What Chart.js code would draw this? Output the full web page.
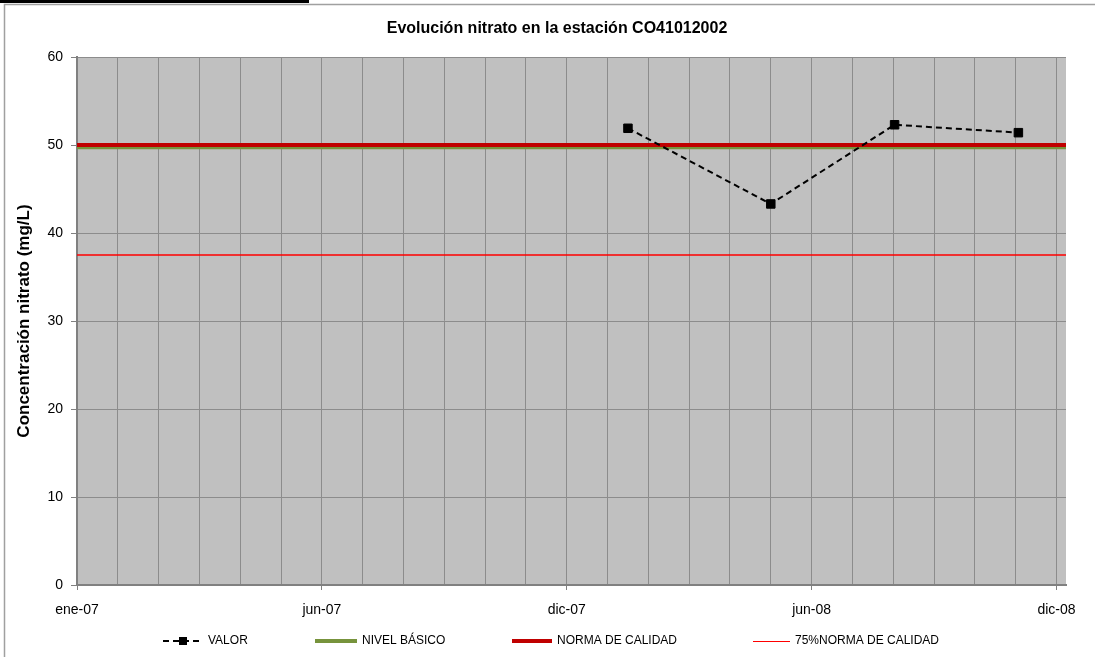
<!DOCTYPE html>
<html>
<head>
<meta charset="utf-8">
<title>Evolución nitrato</title>
<script src="https://cdn.jsdelivr.net/npm/chart.js@4.4.0/dist/chart.umd.min.js"></script>
<style>
    html, body { margin: 0; padding: 0; background: #fff; }
    #wrap { width: 1095px; height: 657px; }
</style>
</head>
<body>
<div id="wrap"><canvas id="chart" width="1095" height="657"></canvas></div>
<script>
// días desde el 1-ene-2007
var fechasValor = [405, 510, 601, 692];
var valores = [51.9, 43.3, 52.3, 51.4];

// series horizontales (inicio y fin del eje)
var ejeX = [0, 727];
var nivelBasico = [49.75, 49.75];
var normaCalidad = [50, 50];
var norma75 = [37.5, 37.5];

var etiquetasX = ['ene-07', 'jun-07', 'dic-07', 'jun-08', 'dic-08'];
var yMin = 0, yMax = 60, yPaso = 10;

var titulo = 'Evolución nitrato en la estación CO41012002';
var nombres = ['VALOR', 'NIVEL BÁSICO', 'NORMA DE CALIDAD', '75%NORMA DE CALIDAD'];

function pares(xs, ys) {
    return xs.map(function (x, i) { return { x: x, y: ys[i] }; });
}

Chart.defaults.font.family = '"Liberation Sans", Arial, sans-serif';
Chart.defaults.color = '#000';

// fondo gris del área de trazado, marco y título
var fondoPlugin = {
    id: 'fondo',
    beforeDraw: function (chart) {
        var ctx = chart.ctx, a = chart.chartArea;
        ctx.save();
        ctx.fillStyle = '#fff';
        ctx.fillRect(0, 0, chart.width, chart.height);
        ctx.fillStyle = '#000';
        ctx.fillRect(0, 0, 309, 3);
        ctx.strokeStyle = '#a0a0a0';
        ctx.lineWidth = 1.5;
        ctx.beginPath();
        ctx.moveTo(4.5, chart.height);
        ctx.lineTo(4.5, 4.5);
        ctx.lineTo(chart.width, 4.5);
        ctx.stroke();
        ctx.fillStyle = '#c0c0c0';
        ctx.fillRect(a.left, a.top, a.right - a.left, a.bottom - a.top);

        ctx.fillStyle = '#000';
        ctx.font = 'bold 16px "Liberation Sans", Arial, sans-serif';
        ctx.textAlign = 'center';
        ctx.textBaseline = 'middle';
        ctx.fillText(titulo, 557, 29);
        ctx.restore();
    }
};

// leyenda dibujada a mano (muestra de línea + texto)
var leyendaPlugin = {
    id: 'leyenda',
    afterDraw: function (chart) {
        var ctx = chart.ctx;
        var xs = [163, 315, 512, 753];
        var anchos = [40, 42, 40, 37];
        var y = 641;
        ctx.save();
        chart.data.datasets.forEach(function (ds, k) {
            var x0 = xs[k], w = anchos[k];
            var lw = Math.max(1, Math.round(ds.borderWidth));
            if (ds.borderDash) {
                ctx.strokeStyle = ds.borderColor;
                ctx.lineWidth = lw;
                ctx.setLineDash(ds.borderDash);
                ctx.beginPath();
                ctx.moveTo(x0, y);
                ctx.lineTo(x0 + w, y);
                ctx.stroke();
                ctx.setLineDash([]);
            } else {
                ctx.fillStyle = ds.borderColor;
                ctx.fillRect(x0, y - Math.floor(lw / 2), w, lw);
            }
            if (ds.pointRadius) {
                ctx.fillStyle = ds.pointBackgroundColor;
                ctx.fillRect(x0 + w / 2 - 4, y - 4, 8, 8);
            }
            ctx.fillStyle = '#000';
            ctx.font = '12px "Liberation Sans", Arial, sans-serif';
            ctx.textBaseline = 'middle';
            ctx.textAlign = 'left';
            ctx.fillText(ds.label, x0 + w + 5, y);
        });
        ctx.restore();
    }
};

var ctx = document.getElementById('chart');
new Chart(ctx, {
    type: 'line',
    data: {
        datasets: [
            {
                label: nombres[0],
                data: pares(fechasValor, valores),
                borderColor: '#000',
                borderWidth: 2,
                borderDash: [6, 4],
                pointStyle: 'rect',
                pointRadius: 6,
                pointBackgroundColor: '#000',
                pointBorderColor: '#000',
                pointBorderWidth: 1,
                fill: false,
                order: 0
            },
            {
                label: nombres[1],
                data: pares(ejeX, nivelBasico),
                borderColor: '#77933c',
                borderWidth: 4,
                pointRadius: 0,
                fill: false,
                order: 2
            },
            {
                label: nombres[2],
                data: pares(ejeX, normaCalidad),
                borderColor: '#c00000',
                borderWidth: 4,
                pointRadius: 0,
                fill: false,
                order: 1
            },
            {
                label: nombres[3],
                data: pares(ejeX, norma75),
                borderColor: '#ff0000',
                borderWidth: 1.3,
                pointRadius: 0,
                fill: false,
                order: 3
            }
        ]
    },
    options: {
        responsive: false,
        animation: false,
        layout: { padding: { left: 0, right: 29, top: 57, bottom: 0 } },
        plugins: {
            legend: { display: false },
            tooltip: { enabled: false },
            title: { display: false }
        },
        scales: {
            x: {
                type: 'linear',
                min: ejeX[0],
                max: ejeX[1],
                afterBuildTicks: function (scale) {
                    scale.ticks = scale.ticks.filter(function (t) { return t.value % 30 === 0; });
                },
                afterFit: function (scale) { scale.height = 72; },
                ticks: {
                    stepSize: 30,
                    includeBounds: false,
                    autoSkip: false,
                    maxRotation: 0,
                    padding: 12,
                    font: { size: 14 },
                    color: '#000',
                    callback: function (v) {
                        return v % 180 === 0 ? etiquetasX[v / 180] : '';
                    }
                },
                grid: {
                    color: '#8c8c8c',
                    lineWidth: 1,
                    tickLength: 5,
                    tickColor: function (c) {
                        return c.tick && c.tick.value % 180 === 0 ? '#808080' : 'rgba(0,0,0,0)';
                    }
                },
                border: { color: '#808080', width: 2 }
            },
            y: {
                min: yMin,
                max: yMax,
                afterFit: function (scale) { scale.width = 77; },
                ticks: {
                    stepSize: yPaso,
                    padding: 8,
                    font: { size: 14 },
                    color: '#000'
                },
                grid: {
                    color: '#8c8c8c',
                    lineWidth: 1,
                    tickLength: 6,
                    tickColor: '#808080'
                },
                border: { color: '#808080', width: 2 },
                title: {
                    display: true,
                    text: 'Concentración nitrato (mg/L)',
                    font: { size: 17, weight: 'bold' },
                    color: '#000',
                    padding: { top: 14, bottom: 0 }
                }
            }
        }
    },
    plugins: [fondoPlugin, leyendaPlugin]
});
</script>
</body>
</html>
